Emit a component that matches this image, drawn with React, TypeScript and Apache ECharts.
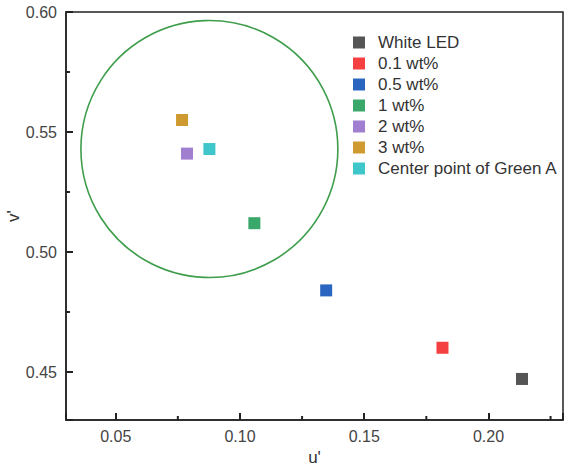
import React, { useEffect, useRef } from 'react';
import * as echarts from 'echarts';

const seriesNames = ['White LED', '0.1 wt%', '0.5 wt%', '1 wt%', '2 wt%', '3 wt%', 'Center point of Green A'];
const uValues = [0.2135, 0.1815, 0.1347, 0.1058, 0.0787, 0.0767, 0.0877];
const vValues = [0.4471, 0.4601, 0.484, 0.512, 0.541, 0.555, 0.5429];
const colors = ['#555555', '#F44040', '#2A66BF', '#3AA86B', '#A07ED0', '#CF9A30', '#3EC6CA'];
const xRange = [0.03, 0.23];
const yRange = [0.43, 0.6];
const xMajorTicks = [0.05, 0.1, 0.15, 0.2];
const xMinorTicks = [0.075, 0.125, 0.175, 0.225];
const yMajorTicks = [0.45, 0.5, 0.55, 0.6];
const yMinorTicks = [0.475, 0.525, 0.575];
const circleCenter = [0.0877, 0.5429];
const circleRadiusU = 0.0517;

const FONT = 'Liberation Sans, Arial, sans-serif';
const AX = '#222222';
const MAJOR_LEN = 7;
const MINOR_LEN = 4;

export default function App() {
  const ref = useRef<HTMLDivElement>(null);
  useEffect(() => {
    if (!ref.current) return;
    const chart = echarts.init(ref.current, null, { renderer: 'svg' });

    // minor tick marks: [x, y, length, direction(0 = x-axis tick, 1 = y-axis tick)]
    const minorTickData: number[][] = [
      ...xMinorTicks.map((t) => [t, yRange[0], MINOR_LEN, 0]),
      ...yMinorTicks.map((t) => [xRange[0], t, MINOR_LEN, 1]),
    ];

    const option: any = {
      animation: false,
      backgroundColor: '#ffffff',
      textStyle: { fontFamily: FONT },
      grid: {
        left: 66, right: 7, top: 12, bottom: 48,
        outerBoundsMode: 'none', containLabel: false,
        show: true, borderColor: AX, borderWidth: 1.5, backgroundColor: 'transparent',
      },
      legend: {
        orient: 'vertical',
        left: 348,
        top: 29,
        itemWidth: 12,
        itemHeight: 12,
        itemGap: 4,
        icon: 'rect',
        data: seriesNames,
        textStyle: { fontFamily: FONT, fontSize: 17, color: '#333', padding: [0, 0, 0, 8] },
      },
      xAxis: {
        type: 'value',
        min: xRange[0],
        max: xRange[1],
        splitNumber: 4,
        splitLine: { show: false },
        position: 'bottom',
        name: "u'",
        nameLocation: 'middle',
        nameGap: 29,
        nameMoveOverlap: false,
        nameTextStyle: { fontFamily: FONT, fontSize: 17, color: '#333' },
        axisLine: { show: true, lineStyle: { color: AX, width: 1.5 } },
        axisTick: { show: true, inside: true, length: MAJOR_LEN, lineStyle: { color: AX, width: 2 } },
        axisLabel: { show: true, customValues: xMajorTicks, margin: 8, fontFamily: FONT, fontSize: 16, color: '#444', formatter: (v: number) => v.toFixed(2) },
      },
      yAxis: {
        type: 'value',
        min: yRange[0],
        max: yRange[1],
        splitNumber: 4,
        splitLine: { show: false },
        position: 'left',
        name: "v'",
        nameLocation: 'middle',
        nameGap: 44,
        nameMoveOverlap: false,
        nameTextStyle: { fontFamily: FONT, fontSize: 17, color: '#333' },
        axisLine: { show: true, lineStyle: { color: AX, width: 1.5 } },
        axisTick: { show: true, inside: true, length: MAJOR_LEN, lineStyle: { color: AX, width: 2 } },
        axisLabel: { show: true, customValues: yMajorTicks, margin: 9, fontFamily: FONT, fontSize: 16, color: '#444', formatter: (v: number) => v.toFixed(2) },
      },
      series: [
        {
          type: 'custom',
          name: 'minorTicks',
          silent: true,
          clip: false,
          z: 5,
          encode: { x: 0, y: 1 },
          data: minorTickData,
          renderItem: (params: any, api: any) => {
            const p = api.coord([api.value(0), api.value(1)]);
            const len = api.value(2);
            const dir = api.value(3);
            const shape = dir === 0
              ? { x1: p[0], y1: p[1], x2: p[0], y2: p[1] - len }
              : { x1: p[0], y1: p[1], x2: p[0] + len, y2: p[1] };
            return { type: 'line', shape, style: { stroke: AX, lineWidth: 2, fill: null } };
          },
        },
        {
          type: 'custom',
          name: 'circle',
          silent: true,
          z: 1,
          encode: { x: 0, y: 1 },
          data: [[circleCenter[0], circleCenter[1], circleRadiusU]],
          renderItem: (params: any, api: any) => {
            const c = api.coord([api.value(0), api.value(1)]);
            const r = api.size([api.value(2), 0])[0];
            return {
              type: 'circle',
              shape: { cx: c[0], cy: c[1], r },
              style: { fill: 'none', stroke: '#3F9E4C', lineWidth: 1.6 },
            };
          },
        },
        ...seriesNames.map((name, i) => ({
          type: 'scatter',
          name,
          symbol: 'rect',
          symbolSize: 12,
          z: 3,
          itemStyle: { color: colors[i], opacity: 1 },
          data: [[uValues[i], vValues[i]]],
        })),
      ],
    };
    chart.setOption(option);
    return () => chart.dispose();
  }, []);
  return <div ref={ref} style={{ position: 'fixed', left: 0, top: 0, width: 570, height: 468 }} />;
}
